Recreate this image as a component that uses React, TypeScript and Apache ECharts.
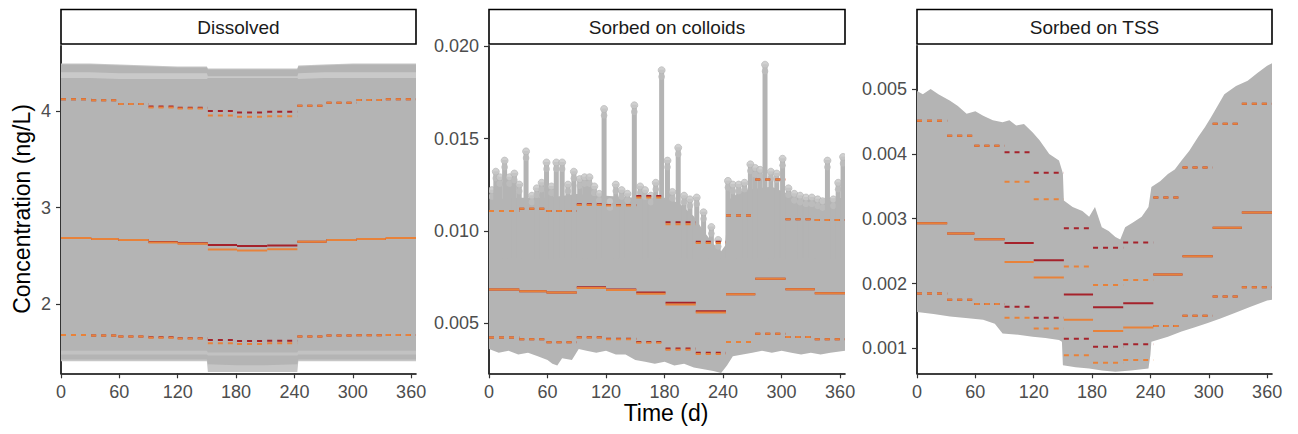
import React, { useEffect, useRef } from "react";
import * as echarts from "echarts";

// ---------- shared ----------
const monthStart = [0, 31, 59, 90, 120, 151, 181, 212, 243, 273, 304, 334];
const monthEnd = [31, 59, 90, 120, 151, 181, 212, 243, 273, 304, 334, 365];
const xTicks = [0, 60, 120, 180, 240, 300, 360];
const panelTitles = ["Dissolved", "Sorbed on colloids", "Sorbed on TSS"];

// ---------- Dissolved ----------
const disTicks = [2, 3, 4];
const disP95Orange = [4.121, 4.111, 4.072, 4.035, 4.025, 3.952, 3.941, 3.945, 4.055, 4.086, 4.114, 4.121];
const disP95Red = [4.121, 4.111, 4.072, 4.045, 4.034, 4.0, 3.983, 3.993, 4.055, 4.086, 4.114, 4.121];
const disMedOrange = [2.686, 2.676, 2.666, 2.64, 2.625, 2.566, 2.556, 2.569, 2.648, 2.666, 2.676, 2.686];
const disMedRed = [2.686, 2.676, 2.666, 2.645, 2.632, 2.614, 2.604, 2.607, 2.648, 2.666, 2.676, 2.686];
const disP5Orange = [1.683, 1.676, 1.666, 1.655, 1.645, 1.597, 1.59, 1.597, 1.666, 1.676, 1.68, 1.683];
const disP5Red = [1.683, 1.676, 1.666, 1.659, 1.649, 1.631, 1.621, 1.624, 1.666, 1.676, 1.68, 1.683];
const disDays = [0, 30, 60, 90, 120, 150, 151, 180, 210, 243, 244, 270, 300, 330, 365];
const disHi = [4.48, 4.48, 4.47, 4.46, 4.45, 4.45, 4.43, 4.43, 4.43, 4.43, 4.46, 4.47, 4.48, 4.48, 4.48];
const disLo = [1.43, 1.43, 1.43, 1.43, 1.43, 1.43, 1.38, 1.37, 1.37, 1.38, 1.43, 1.43, 1.43, 1.43, 1.43];
const disHazeHi = [4.49, 4.49, 4.48, 4.47, 4.46, 4.46, 4.44, 4.44, 4.44, 4.44, 4.47, 4.48, 4.49, 4.49, 4.49];
const disHazeLo = [1.41, 1.41, 1.41, 1.41, 1.41, 1.41, 1.3, 1.3, 1.3, 1.3, 1.41, 1.41, 1.41, 1.41, 1.41];
const disStripeHi = [4.4, 4.4, 4.39, 4.39, 4.39, 4.39, 4.36, 4.36, 4.36, 4.36, 4.39, 4.4, 4.4, 4.4, 4.4];
const disStripeLo = [4.34, 4.34, 4.33, 4.33, 4.33, 4.33, 4.34, 4.34, 4.34, 4.34, 4.33, 4.34, 4.34, 4.34, 4.34];
const disStripe2Hi = [1.52, 1.52, 1.52, 1.52, 1.52, 1.52, 1.5, 1.5, 1.5, 1.5, 1.52, 1.52, 1.52, 1.52, 1.52];
const disStripe2Lo = [1.48, 1.48, 1.48, 1.48, 1.48, 1.48, 1.47, 1.47, 1.47, 1.47, 1.48, 1.48, 1.48, 1.48, 1.48];

// ---------- Sorbed on colloids ----------
const colTicks = [0.005, 0.01, 0.015, 0.02];
const colP95Orange = [0.01108, 0.0112, 0.01108, 0.0114, 0.01138, 0.01181, 0.01036, 0.00934, 0.01084, 0.01279, 0.01063, 0.01059];
const colP95Red = [0.01108, 0.0112, 0.01108, 0.01144, 0.0114, 0.01189, 0.01047, 0.00941, 0.01084, 0.01279, 0.01063, 0.01059];
const colMedOrange = [0.00682, 0.00673, 0.00666, 0.00691, 0.0068, 0.00659, 0.00601, 0.00557, 0.00657, 0.0074, 0.00684, 0.00662];
const colMedRed = [0.00682, 0.00673, 0.00666, 0.00695, 0.00682, 0.00666, 0.0061, 0.00565, 0.00657, 0.0074, 0.00684, 0.00662];
const colP5Orange = [0.00422, 0.00413, 0.00397, 0.00422, 0.00413, 0.00393, 0.00355, 0.00332, 0.00398, 0.00443, 0.00425, 0.00413];
const colP5Red = [0.00422, 0.00413, 0.00397, 0.00424, 0.00415, 0.00398, 0.00363, 0.00339, 0.00398, 0.00443, 0.00425, 0.00413];
const colHiDays = [0, 5, 30, 60, 90, 120, 150, 180, 195, 210, 220, 230, 238, 242, 246, 260, 290, 320, 365];
const colHi = [0.011, 0.0117, 0.0118, 0.0118, 0.012, 0.0119, 0.0118, 0.0118, 0.0115, 0.0108, 0.01, 0.0093, 0.0089, 0.0092, 0.0117, 0.0122, 0.0124, 0.0117, 0.0118];
const colLoDays = [0, 10, 20, 30, 40, 50, 60, 65, 70, 75, 85, 92, 100, 110, 120, 130, 140, 150, 160, 170, 180, 190, 200, 210, 220, 230, 238, 244, 250, 260, 270, 280, 290, 300, 310, 320, 330, 340, 350, 365];
const colLo = [0.0036, 0.0034, 0.0035, 0.0033, 0.0034, 0.0032, 0.003, 0.0028, 0.0027, 0.0031, 0.003, 0.0036, 0.0035, 0.0034, 0.0035, 0.0033, 0.0033, 0.003, 0.0029, 0.0028, 0.0029, 0.0027, 0.0028, 0.0026, 0.0025, 0.0024, 0.0023, 0.0027, 0.0032, 0.0033, 0.0034, 0.0035, 0.0034, 0.0035, 0.0034, 0.0033, 0.0034, 0.0033, 0.0034, 0.0035];
const colSpikeDays = [3, 7, 11, 16, 21, 26, 31, 38, 44, 49, 54, 59, 64, 69, 75, 81, 87, 93, 98, 103, 108, 113, 118, 124, 130, 136, 142, 149, 155, 160, 166, 171, 177, 183, 188, 194, 200, 206, 213, 220, 228, 235, 245, 250, 256, 262, 268, 273, 278, 283, 289, 295, 301, 307, 313, 319, 325, 331, 337, 342, 347, 353, 358, 363];
const colSpikeTops = [0.0124, 0.0134, 0.0131, 0.014, 0.0131, 0.0133, 0.0127, 0.0145, 0.0121, 0.0125, 0.0128, 0.0139, 0.0126, 0.0139, 0.0139, 0.0127, 0.0134, 0.013, 0.0131, 0.0131, 0.0126, 0.0122, 0.0168, 0.0118, 0.0127, 0.0124, 0.0122, 0.017, 0.0126, 0.0124, 0.0121, 0.0128, 0.0189, 0.014, 0.0123, 0.0147, 0.0121, 0.0119, 0.012, 0.0112, 0.0104, 0.0097, 0.0129, 0.0127, 0.0127, 0.0128, 0.0138, 0.0136, 0.0135, 0.0192, 0.0134, 0.0133, 0.0141, 0.0125, 0.0122, 0.0121, 0.012, 0.012, 0.0119, 0.0118, 0.014, 0.0119, 0.0128, 0.0142];
const colSpikeBase = 0.0085;

// ---------- Sorbed on TSS ----------
const tssTicks = [0.001, 0.002, 0.003, 0.004, 0.005];
const tssP95Orange = [0.004512, 0.004282, 0.004128, 0.003569, 0.003302, 0.002262, 0.001978, 0.002055, 0.003328, 0.003789, 0.004466, 0.004774];
const tssP95Red = [0.004512, 0.004282, 0.004128, 0.004025, 0.003708, 0.002855, 0.002554, 0.002635, 0.003328, 0.003789, 0.004466, 0.004774];
const tssMedOrange = [0.002932, 0.002774, 0.002682, 0.002332, 0.002092, 0.00144, 0.001266, 0.001323, 0.002138, 0.00242, 0.002862, 0.003097];
const tssMedRed = [0.002932, 0.002774, 0.002682, 0.002625, 0.002358, 0.001831, 0.001635, 0.001697, 0.002138, 0.00242, 0.002862, 0.003097];
const tssP5Orange = [0.001846, 0.001748, 0.001686, 0.001471, 0.001308, 0.000892, 0.000778, 0.00082, 0.001343, 0.001502, 0.0018, 0.001943];
const tssP5Red = [0.001846, 0.001748, 0.001686, 0.00164, 0.001471, 0.001148, 0.001025, 0.001062, 0.001343, 0.001502, 0.0018, 0.001943];
const tssHiDays = [0, 6, 14, 22, 34, 42, 51, 60, 68, 78, 88, 95, 102, 110, 119, 126, 136, 146, 150, 151, 160, 170, 177, 183, 190, 197, 204, 209, 214, 222, 231, 238, 241, 250, 258, 265, 272, 280, 289, 296, 302, 309, 316, 328, 340, 350, 360, 365];
const tssHi = [0.00497, 0.00492, 0.005, 0.00492, 0.00482, 0.00474, 0.00462, 0.00466, 0.00459, 0.00452, 0.00449, 0.00452, 0.00444, 0.00446, 0.00433, 0.00421, 0.004, 0.0039, 0.0037, 0.00328, 0.00318, 0.00312, 0.00303, 0.00318, 0.00287, 0.00281, 0.00272, 0.00268, 0.00287, 0.00294, 0.00303, 0.00318, 0.00349, 0.00358, 0.00369, 0.00376, 0.0039, 0.00405, 0.00426, 0.00441, 0.00456, 0.00474, 0.00492, 0.00505, 0.00513, 0.00525, 0.00536, 0.0054];
const tssLoDays = [0, 17, 34, 50, 68, 80, 88, 104, 119, 132, 146, 149, 150, 163, 177, 190, 204, 220, 238, 240, 241, 258, 272, 285, 299, 312, 326, 343, 360, 365];
const tssLo = [0.00156, 0.00153, 0.00149, 0.00147, 0.00144, 0.00138, 0.00123, 0.00121, 0.00118, 0.00116, 0.00113, 0.0011, 0.00074, 0.00071, 0.00069, 0.00066, 0.00064, 0.00066, 0.00069, 0.0009, 0.0011, 0.00118, 0.00126, 0.00132, 0.00139, 0.00146, 0.00154, 0.00164, 0.00174, 0.00175];

// ---------- style ----------
const ORANGE = "#E8823A";
const DARKRED = "#A5222B";
const GREY = "#b4b4b4";
const FONT = "'Liberation Sans', Arial, Helvetica, sans-serif";

const GRID_TOP = 45.7;
const GRID_H = 327.6;
const grids = [
  { left: 61, top: GRID_TOP, width: 355, height: GRID_H },
  { left: 489, top: GRID_TOP, width: 356, height: GRID_H },
  { left: 917, top: GRID_TOP, width: 355, height: GRID_H },
];
const yRanges = [
  { min: 1.286, max: 4.675, ticks: disTicks, fmt: (v: number) => String(Math.round(v)) },
  { min: 0.00228, max: 0.02004, ticks: colTicks, fmt: (v: number) => v.toFixed(3) },
  { min: 0.000615, max: 0.00567, ticks: tssTicks, fmt: (v: number) => v.toFixed(3) },
];

function bandSeries(g: number, upDays: number[], upVals: number[], loDays: number[], loVals: number[], color: string) {
  return {
    type: "custom",
    xAxisIndex: g,
    yAxisIndex: g,
    silent: true,
    clip: true,
    data: upDays.map((d, i) => [d, upVals[i]]),
    encode: { x: 0, y: 1 },
    renderItem: (params: any, api: any) => {
      if (params.dataIndex !== 0) return { type: "group", children: [] };
      const pts: number[][] = [];
      for (let i = 0; i < upDays.length; i++) pts.push(api.coord([upDays[i], upVals[i]]));
      for (let i = loDays.length - 1; i >= 0; i--) pts.push(api.coord([loDays[i], loVals[i]]));
      return { type: "polygon", shape: { points: pts }, style: { fill: color } };
    },
  };
}

function spikeSeries(g: number, days: number[], tops: number[]) {
  return {
    type: "custom",
    xAxisIndex: g,
    yAxisIndex: g,
    silent: true,
    clip: true,
    data: days.map((d, i) => [d, tops[i]]),
    encode: { x: 0, y: 1 },
    renderItem: (params: any, api: any) => {
      const d = api.value(0);
      const top = api.value(1);
      const pt = api.coord([d, top]);
      const pb = api.coord([d, colSpikeBase]);
      return {
        type: "group",
        children: [
          { type: "rect", shape: { x: pt[0] - 2.5, y: pt[1] + 3, width: 5, height: Math.max(0, pb[1] - pt[1] - 3) }, style: { fill: GREY } },
          { type: "circle", shape: { cx: pt[0], cy: pt[1] + 3.5, r: 3.5 }, style: { fill: "rgba(200,200,200,0.85)", stroke: "rgba(180,180,180,0.8)", lineWidth: 0.8 } },
          { type: "circle", shape: { cx: pt[0], cy: pt[1] + 10, r: 3.3 }, style: { fill: "rgba(188,188,188,0.9)" } },
        ],
      };
    },
  };
}

function stepSeries(g: number, values: number[], color: string, dashed: boolean) {
  return {
    type: "custom",
    xAxisIndex: g,
    yAxisIndex: g,
    silent: true,
    clip: true,
    data: values.map((v, i) => [monthStart[i], monthEnd[i], v]),
    encode: { x: [0, 1], y: 2 },
    renderItem: (params: any, api: any) => {
      const a = api.coord([api.value(0), api.value(2)]);
      const b = api.coord([api.value(1), api.value(2)]);
      const style: any = { stroke: color, lineWidth: 2 };
      if (dashed) style.lineDash = [5, 5];
      return { type: "line", shape: { x1: a[0], y1: a[1], x2: b[0], y2: b[1] }, style };
    },
  };
}

export default function App() {
  const ref = useRef<HTMLDivElement>(null);
  useEffect(() => {
    if (!ref.current) return;
    const chart = echarts.init(ref.current, undefined, { renderer: "svg" });

    const xAxis = grids.map((_, i) => ({
      type: "value",
      gridIndex: i,
      min: 0,
      max: 365,
      axisLine: { show: true, onZero: false, lineStyle: { color: "#000", width: 1.6 } },
      axisTick: { show: true, length: 5, customValues: xTicks, lineStyle: { color: "#333", width: 1.2 } },
      axisLabel: { customValues: xTicks, color: "#4d4d4d", fontSize: 18, margin: 10, fontFamily: FONT },
      splitLine: { show: false },
    }));
    const yAxis = yRanges.map((r, i) => ({
      type: "value",
      gridIndex: i,
      min: r.min,
      max: r.max,
      axisLine: { show: true, onZero: false, lineStyle: { color: "#000", width: 1.6 } },
      axisTick: { show: true, length: 5, customValues: r.ticks, lineStyle: { color: "#333", width: 1.2 } },
      axisLabel: { customValues: r.ticks, color: "#4d4d4d", fontSize: 18, margin: 10, fontFamily: FONT, formatter: r.fmt },
      splitLine: { show: false },
    }));

    const series: any[] = [
      // Dissolved
      bandSeries(0, disDays, disHazeHi, disDays, disHazeLo, "#c6c6c6"),
      bandSeries(0, disDays, disHi, disDays, disLo, GREY),
      bandSeries(0, disDays, disStripeHi, disDays, disStripeLo, "#c9c9c9"),
      bandSeries(0, disDays, disStripe2Hi, disDays, disStripe2Lo, "#c2c2c2"),
      stepSeries(0, disP95Red, DARKRED, true),
      stepSeries(0, disMedRed, DARKRED, false),
      stepSeries(0, disP5Red, DARKRED, true),
      stepSeries(0, disP95Orange, ORANGE, true),
      stepSeries(0, disMedOrange, ORANGE, false),
      stepSeries(0, disP5Orange, ORANGE, true),
      // Colloids
      bandSeries(1, colHiDays, colHi, colLoDays, colLo, GREY),
      spikeSeries(1, colSpikeDays, colSpikeTops),
      stepSeries(1, colP95Red, DARKRED, true),
      stepSeries(1, colMedRed, DARKRED, false),
      stepSeries(1, colP5Red, DARKRED, true),
      stepSeries(1, colP95Orange, ORANGE, true),
      stepSeries(1, colMedOrange, ORANGE, false),
      stepSeries(1, colP5Orange, ORANGE, true),
      // TSS
      bandSeries(2, tssHiDays, tssHi, tssLoDays, tssLo, GREY),
      stepSeries(2, tssP95Red, DARKRED, true),
      stepSeries(2, tssMedRed, DARKRED, false),
      stepSeries(2, tssP5Red, DARKRED, true),
      stepSeries(2, tssP95Orange, ORANGE, true),
      stepSeries(2, tssMedOrange, ORANGE, false),
      stepSeries(2, tssP5Orange, ORANGE, true),
    ];

    const graphics: any[] = [];
    grids.forEach((g, i) => {
      graphics.push({
        type: "rect",
        shape: { x: g.left, y: 9.5, width: g.width, height: 34.5 },
        style: { fill: "#fff", stroke: "#000", lineWidth: 1.6 },
      });
      graphics.push({
        type: "text",
        x: g.left + g.width / 2,
        y: 27,
        style: { text: panelTitles[i], align: "center", verticalAlign: "middle", fontSize: 19, fill: "#1a1a1a", fontFamily: FONT },
      });
    });
    graphics.push({
      type: "text",
      x: 22,
      y: 209,
      rotation: Math.PI / 2,
      style: { text: "Concentration (ng/L)", align: "center", verticalAlign: "middle", fontSize: 23, fill: "#000", fontFamily: FONT },
    });
    graphics.push({
      type: "text",
      x: 666,
      y: 413,
      style: { text: "Time (d)", align: "center", verticalAlign: "middle", fontSize: 23, fill: "#000", fontFamily: FONT },
    });

    chart.setOption({
      animation: false,
      backgroundColor: "#fff",
      grid: grids,
      xAxis,
      yAxis,
      series,
      graphic: graphics,
    });
    return () => chart.dispose();
  }, []);
  return <div ref={ref} style={{ position: "absolute", left: 0, top: 0, width: 1298, height: 434 }} />;
}
